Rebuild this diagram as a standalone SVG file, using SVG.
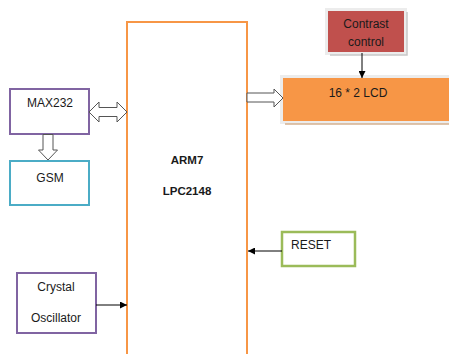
<svg xmlns="http://www.w3.org/2000/svg" width="449" height="354" viewBox="0 0 449 354">
<defs>
<marker id="ah" viewBox="0 0 10 10" refX="10" refY="5" markerWidth="7" markerHeight="7" markerUnits="userSpaceOnUse" orient="auto">
<path d="M0,0 L10,5 L0,10 z" fill="#000"/>
</marker>
</defs>
<style>
text{font-family:"Liberation Sans",Arial,sans-serif;font-size:12px;fill:#1a1a1a;text-anchor:middle}
.b{font-weight:bold;font-size:11.5px}
.line{stroke:#000;stroke-width:1;fill:none}
.block{fill:#fff;stroke:#555;stroke-width:1}
.sh{fill:none;stroke:#ececec;stroke-width:3}
</style>
<rect width="449" height="354" fill="#fff"/>
<g id="arm7">
<rect x="127" y="22" width="120" height="340" fill="#fff" stroke="#F79646" stroke-width="2"/>
<text class="b" x="187" y="164">ARM7</text>
<text class="b" x="187" y="195">LPC2148</text>
</g>
<g id="max232">
<rect x="10" y="89" width="79" height="45" fill="#fff" stroke="#8064A2" stroke-width="2"/>
<text x="50" y="107">MAX232</text>
</g>
<g id="gsm">
<rect x="10" y="161" width="79" height="44" fill="#fff" stroke="#4BACC6" stroke-width="2"/>
<text x="50" y="182">GSM</text>
</g>
<g id="contrast">
<rect x="326.5" y="9.5" width="79" height="44" class="sh"/>
<path d="M407,12 V55 H330" fill="none" stroke="#c8c8c8" stroke-width="1.5"/>
<rect x="328" y="11" width="76" height="41" fill="#C0504D"/>
<text x="366" y="28">Contrast</text>
<text x="366" y="46">control</text>
</g>
<g id="lcd">
<rect x="281.5" y="76.5" width="170" height="46" class="sh"/>
<path d="M285,124 H451" fill="none" stroke="#d4b08f" stroke-width="1.5"/>
<rect x="283" y="78" width="168" height="43" fill="#F79646"/>
<text x="358" y="97">16 * 2 LCD</text>
</g>
<g id="reset">
<rect x="282" y="232" width="73" height="34" fill="#fff" stroke="#9BBB59" stroke-width="2.5"/>
<text x="311" y="249">RESET</text>
</g>
<g id="crystal">
<rect x="17" y="273" width="79" height="60" fill="#fff" stroke="#8064A2" stroke-width="2"/>
<text x="56" y="291">Crystal</text>
<text x="56" y="322">Oscillator</text>
</g>
<g id="connectors">
<path class="block" d="M89,112 L99,102 L99,107.5 L117,107.5 L117,102 L127,112 L117,122 L117,116.5 L99,116.5 L99,122 z"/>
<path class="block" d="M43,134.5 L53,134.5 L53,150 L57.5,150 L48,160 L38.5,150 L43,150 z"/>
<path class="block" d="M247,93 L274,93 L274,89 L283,98 L274,107 L274,102 L247,102 z"/>
<line class="line" x1="362" y1="53" x2="362" y2="78" marker-end="url(#ah)"/>
<line class="line" x1="282" y1="251" x2="248" y2="251" marker-end="url(#ah)"/>
<line class="line" x1="96" y1="305" x2="127" y2="305" marker-end="url(#ah)"/>
</g>
</svg>
